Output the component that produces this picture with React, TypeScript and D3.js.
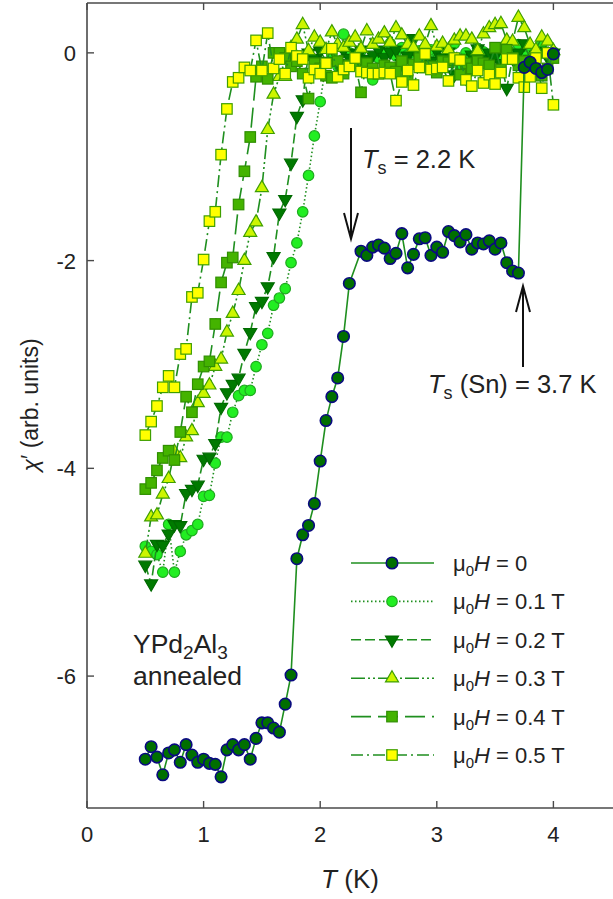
import React from 'react';
import * as d3 from 'd3';

const W = 613;
const H = 899;

const temps = [
  0.50, 0.55, 0.60, 0.65, 0.70, 0.75, 0.80, 0.85, 0.90, 0.95,
  1.00, 1.05, 1.10, 1.15, 1.20, 1.25, 1.30, 1.35, 1.40, 1.45,
  1.50, 1.55, 1.60, 1.65, 1.70, 1.75, 1.80, 1.85, 1.90, 1.95,
  2.00, 2.05, 2.10, 2.15, 2.20, 2.25, 2.30, 2.35, 2.40, 2.45,
  2.50, 2.55, 2.60, 2.65, 2.70, 2.75, 2.80, 2.85, 2.90, 2.95,
  3.00, 3.05, 3.10, 3.15, 3.20, 3.25, 3.30, 3.35, 3.40, 3.45,
  3.50, 3.55, 3.60, 3.65, 3.70, 3.75, 3.80, 3.85, 3.90, 3.95,
  4.00,
];

const chiH0: (number | null)[] = [
  -6.80, -6.68, -6.78, -6.95, -6.74, -6.71, -6.83, -6.66, -6.76, -6.83,
  -6.80, -6.84, -6.85, -6.97, -6.71, -6.66, -6.71, -6.66, -6.80, -6.60,
  -6.45, -6.45, -6.50, -6.54, -6.27, -5.99, -4.87, -4.64, -4.55, -4.34,
  -3.93, -3.54, -3.31, -3.13, -2.73, -2.22, null, -1.91, -1.95, -1.87,
  -1.85, -1.88, -1.98, -1.93, -1.74, -2.07, -1.94, -1.79, -1.78, -1.95,
  -1.87, -1.92, -1.72, -1.76, -1.82, -1.75, -1.89, -1.83, -1.84, -1.81,
  -1.89, -1.83, -2.02, -2.10, -2.12, -0.14, -0.09, -0.15, -0.19, -0.16,
  -0.01,
];

const chiH01: (number | null)[] = [
  -4.75, -4.80, -4.83, -5.00, -4.54, -5.00, -4.80, -4.64, -4.60, -4.54,
  -4.27, -4.26, -3.95, -3.70, -3.70, -3.46, -3.30, -3.25, -3.25, -3.02,
  -2.81, -2.70, -2.43, -2.36, -2.27, -2.02, -1.83, -1.53, -1.18, -0.80,
  -0.47, -0.10, -0.02, -0.13, 0.18, 0.00, -0.05, 0.02, -0.08, -0.26,
  -0.05, 0.00, 0.09, -0.03, 0.05, -0.02, 0.00, 0.02, -0.08, 0.03,
  -0.04, 0.06, 0.00, 0.09, -0.13, 0.00, -0.05, 0.04, 0.01, -0.03,
  0.02, -0.04, 0.05, 0.00, 0.08, -0.03, 0.05, 0.02, 0.09, -0.02,
  0.01,
];

const chiH02: (number | null)[] = [
  -4.93, -5.11, -4.73, -4.74, -4.63, -4.54, -4.55, -4.24, -4.20, -4.16,
  -3.91, -3.89, -3.76, -3.41, -3.27, -3.19, -3.13, -2.89, -2.69, -2.44,
  -2.39, -2.25, -1.96, -1.54, -1.41, -1.06, -0.61, -0.45, 0.00, -0.05,
  0.02, -0.08, 0.05, -0.10, 0.03, -0.05, 0.00, 0.03, -0.06, -0.02,
  0.03, -0.04, 0.01, 0.03, -0.10, -0.03, 0.14, -0.05, 0.00, -0.08,
  0.02, -0.04, 0.01, -0.21, -0.05, -0.24, -0.02, 0.04, -0.06, 0.00,
  -0.03, -0.10, -0.34, -0.05, 0.00, 0.09, -0.06, -0.02, 0.02, -0.04,
  0.00,
];

const chiH03: (number | null)[] = [
  -4.82, -4.47, -4.45, -4.25, -4.10, -3.84, -3.90, -3.70, -3.64, -3.37,
  -3.28, -3.20, -3.02, -2.95, -2.69, -2.51, -2.29, -2.00, -1.73, -1.63,
  -1.30, -0.74, -0.40, -0.23, -0.23, 0.05, 0.13, 0.27, 0.02, 0.15,
  0.10, 0.03, 0.20, 0.08, 0.05, 0.10, 0.15, 0.04, 0.21, 0.08,
  0.13, 0.19, 0.10, 0.24, 0.17, 0.08, 0.05, 0.16, 0.08, 0.26,
  0.06, 0.09, 0.03, 0.12, 0.16, 0.16, 0.13, 0.02, 0.18, 0.24,
  0.27, 0.28, 0.12, 0.11, 0.34, 0.24, 0.08, 0.03, 0.15, 0.11,
  0.02,
];

const chiH04: (number | null)[] = [
  -4.20, -4.14, -4.02, -3.90, -3.83, -3.92, -3.65, -3.31, -3.46, -3.19,
  -3.02, -2.97, -2.61, -2.21, -2.02, -1.97, -1.46, -1.14, -0.81, -0.23,
  -0.13, -0.25, 0.00, 0.00, -0.05, -0.13, -0.08, -0.20, -0.44, -0.10,
  -0.15, -0.22, -0.24, -0.08, -0.20, -0.12, -0.10, -0.38, -0.10, -0.15,
  -0.20, -0.12, -0.14, -0.18, -0.08, -0.26, -0.11, -0.05, -0.14, -0.13,
  -0.19, -0.08, -0.09, -0.07, -0.21, -0.10, -0.15, -0.08, -0.10, -0.12,
  0.05, -0.16, 0.03, -0.05, -0.12, -0.08, -0.15, -0.18, -0.22, -0.15,
  -0.05,
];

const chiH05: (number | null)[] = [
  -3.68, -3.55, -3.40, -3.22, -3.11, -3.22, -2.90, -2.85, -2.35, -2.31,
  -1.99, -1.62, -1.53, -0.98, -0.54, -0.28, -0.24, -0.14, -0.17, 0.12,
  -0.17, 0.19, -0.15, -0.06, -0.20, 0.05, -0.03, -0.06, -0.24, -0.16,
  -0.20, -0.10, 0.04, -0.23, -0.16, -0.13, -0.05, -0.18, -0.19, -0.20,
  -0.20, -0.19, -0.20, -0.46, -0.28, -0.17, -0.31, -0.14, -0.01, -0.16,
  -0.15, -0.14, -0.27, -0.05, -0.07, -0.26, -0.32, -0.17, -0.29, -0.21,
  -0.30, -0.19, -0.06, -0.06, -0.24, -0.33, -0.23, -0.05, -0.34, 0.00,
  -0.50,
];

const legendLabels = ['0', '0.1 T', '0.2 T', '0.3 T', '0.4 T', '0.5 T'];
const xTicks = [0, 1, 2, 3, 4];
const yTicks = [0, -2, -4, -6];

type Marker = 'circle' | 'triDown' | 'triUp' | 'square';
interface Series {
  values: (number | null)[];
  marker: Marker;
  fill: string;
  stroke: string;
  strokeW: number;
  size: number;
  dash: string | undefined;
}

const LINE = '#1f8f1f';

const seriesList: Series[] = [
  { values: chiH0, marker: 'circle', fill: '#006f00', stroke: '#0a0a80', strokeW: 1.6, size: 11.5, dash: undefined },
  { values: chiH01, marker: 'circle', fill: '#22ee22', stroke: '#1faa1f', strokeW: 1.2, size: 10.5, dash: '1.5,2.5' },
  { values: chiH02, marker: 'triDown', fill: '#007a00', stroke: '#006a00', strokeW: 1.2, size: 13, dash: '10,4' },
  { values: chiH03, marker: 'triUp', fill: '#ccf500', stroke: '#3f9f00', strokeW: 1.2, size: 13, dash: '14,3,2,3,2,3' },
  { values: chiH04, marker: 'square', fill: '#44b300', stroke: '#2f8f00', strokeW: 1.2, size: 10.5, dash: '20,7' },
  { values: chiH05, marker: 'square', fill: '#ffff00', stroke: '#3f9f00', strokeW: 1.2, size: 10.5, dash: '12,4,2,4' },
];

const drawOrder = [1, 2, 3, 4, 5, 0];

const x = d3.scaleLinear().domain([0, 4.5]).range([87, 611.7]);
const y = d3.scaleLinear().domain([0.48, -7.27]).range([3, 808]);

function MarkerShape({ m, cx, cy, s }: { m: Series; cx: number; cy: number; s?: number }) {
  const size = s ?? m.size;
  const common = { fill: m.fill, stroke: m.stroke, strokeWidth: m.strokeW };
  if (m.marker === 'circle') return <circle cx={cx} cy={cy} r={size / 2} {...common} />;
  if (m.marker === 'square')
    return <rect x={cx - size / 2} y={cy - size / 2} width={size} height={size} {...common} />;
  const a = size * 0.577;
  const b = size * 0.289;
  const h = size / 2;
  if (m.marker === 'triUp')
    return <path d={`M${cx},${cy - a}L${cx + h},${cy + b}L${cx - h},${cy + b}Z`} {...common} />;
  return <path d={`M${cx},${cy + a}L${cx + h},${cy - b}L${cx - h},${cy - b}Z`} {...common} />;
}

export default function App() {
  const font = 'Liberation Sans, Arial, Helvetica, sans-serif';
  const line = d3
    .line<[number, number]>()
    .x((d) => x(d[0]))
    .y((d) => y(d[1]));

  const frame = '#4a4a4a';
  const legendX1 = 351;
  const legendX2 = 434;
  const legendTextX = 453;
  const legendY0 = 563;
  const legendDY = 38.4;

  return (
    <svg
      width={W}
      height={H}
      style={{ position: 'absolute', left: 0, top: 0, background: '#fff' }}
      fontFamily={font}
    >
      <rect x={0} y={0} width={W} height={H} fill="#fff" />

      {/* data */}
      {drawOrder.map((i) => {
        const s = seriesList[i];
        const pts = temps
          .map((t, k) => [t, s.values[k]] as [number, number | null])
          .filter((p) => p[1] !== null && p[1] !== undefined) as [number, number][];
        return (
          <g key={i}>
            <path d={line(pts) || ''} fill="none" stroke={LINE} strokeWidth={1.6} strokeDasharray={s.dash} />
            {pts.map((p, k) => (
              <MarkerShape key={k} m={s} cx={x(p[0])} cy={y(p[1])} />
            ))}
          </g>
        );
      })}

      {/* frame */}
      <line x1={87} y1={808} x2={W} y2={808} stroke={frame} strokeWidth={1.6} />
      <line x1={87} y1={3} x2={W} y2={3} stroke={frame} strokeWidth={1.6} />
      <line x1={87} y1={3} x2={87} y2={808} stroke={frame} strokeWidth={1.6} />
      {xTicks.map((t) => (
        <g key={t}>
          <line x1={x(t)} x2={x(t)} y1={808} y2={801} stroke={frame} strokeWidth={1.4} />
          <line x1={x(t)} x2={x(t)} y1={3} y2={10} stroke={frame} strokeWidth={1.4} />
          <text x={x(t)} y={842} textAnchor="middle" fontSize={22} fill="#222">
            {t}
          </text>
        </g>
      ))}
      {yTicks.map((t) => (
        <g key={t}>
          <line x1={87} x2={94} y1={y(t)} y2={y(t)} stroke={frame} strokeWidth={1.4} />
          <text x={76} y={y(t) + 8} textAnchor="end" fontSize={22} fill="#222">
            {t === 0 ? '0' : `-${Math.abs(t)}`}
          </text>
        </g>
      ))}

      {/* axis titles */}
      <text x={350} y={888} textAnchor="middle" fontSize={26} fill="#222">
        <tspan fontStyle="italic">T</tspan>
        <tspan> (K)</tspan>
      </text>
      <text transform="translate(38,405) rotate(-90)" textAnchor="middle" fontSize={23} fill="#222">
        <tspan fontStyle="italic">χ</tspan>
        <tspan>′ (arb. units)</tspan>
      </text>

      {/* annotations */}
      <line x1={351} y1={128} x2={351} y2={238} stroke="#111" strokeWidth={2} />
      <path d="M344,213 L351,239 L358,213" fill="none" stroke="#111" strokeWidth={2} />
      <text x={362} y={168} fontSize={25.5} fill="#222">
        <tspan fontStyle="italic">T</tspan>
        <tspan fontSize={18} dy={6}>s</tspan>
        <tspan dy={-6}> = 2.2 K</tspan>
      </text>

      <line x1={523} y1={367} x2={523} y2={288} stroke="#111" strokeWidth={2} />
      <path d="M516,312 L523,286 L530,312" fill="none" stroke="#111" strokeWidth={2} />
      <text x={428} y={393} fontSize={25.5} fill="#222">
        <tspan fontStyle="italic">T</tspan>
        <tspan fontSize={18} dy={6}>s</tspan>
        <tspan dy={-6}> (Sn) = 3.7 K</tspan>
      </text>

      <text x={133} y={653} fontSize={26.5} fill="#222">
        <tspan>YPd</tspan>
        <tspan fontSize={19} dy={6}>2</tspan>
        <tspan dy={-6}>Al</tspan>
        <tspan fontSize={19} dy={6}>3</tspan>
      </text>
      <text x={133} y={685} fontSize={26.5} fill="#222">
        annealed
      </text>

      {/* legend */}
      {seriesList.map((s, i) => {
        const ly = legendY0 + i * legendDY;
        return (
          <g key={i}>
            <line x1={legendX1} x2={legendX2} y1={ly} y2={ly} stroke={LINE} strokeWidth={1.6} strokeDasharray={s.dash} />
            <MarkerShape m={s} cx={392} cy={ly} />
            <text x={legendTextX} y={ly + 8} fontSize={22} fill="#222">
              <tspan>μ</tspan>
              <tspan fontSize={15} dy={5}>0</tspan>
              <tspan dy={-5} fontStyle="italic">H</tspan>
              <tspan>{` = ${legendLabels[i]}`}</tspan>
            </text>
          </g>
        );
      })}
    </svg>
  );
}
